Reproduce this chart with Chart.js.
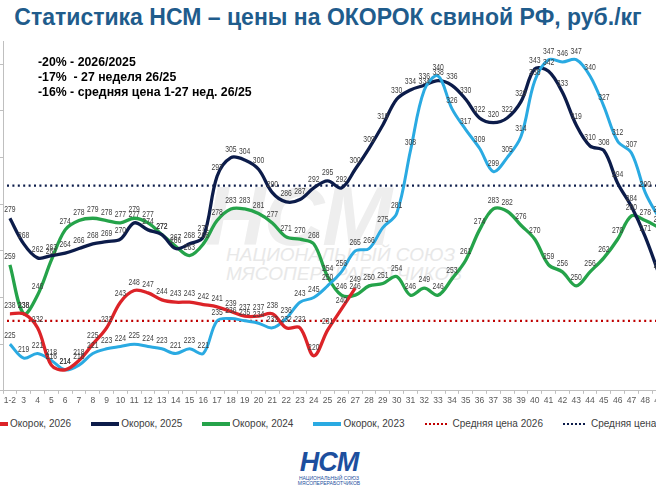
<!DOCTYPE html>
<html lang="ru">
<head>
  <meta charset="UTF-8" />
  <title>Статистика НСМ – цены на ОКОРОК свиной РФ</title>
  <script src="https://cdn.jsdelivr.net/npm/chart.js"></script>
  <style>
    html, body { margin: 0; padding: 0; }
    body {
      width: 656px; height: 493px; overflow: hidden; position: relative;
      background: #fff; font-family: 'Liberation Sans', Arial, sans-serif;
    }
    .title {
      position: absolute; left: 0; top: 4px; width: 656px; text-align: center;
      font-weight: bold; font-size: 23px; color: #1f5c8c; white-space: nowrap;
    }
    .notes {
      position: absolute; left: 38px; top: 55px; z-index: 2;
      font-weight: bold; font-size: 12.3px; line-height: 15px; color: #000; white-space: pre;
    }
    .wm { position: absolute; color: #eeeeee; font-style: italic; white-space: nowrap; }
    .wm-big { left: 205px; top: 168px; font-size: 84px; font-weight: bold; letter-spacing: -2px; }
    .wm-small { left: 226px; top: 245px; font-size: 19px; line-height: 19px; color: #e8e8e8; }
    .chart-box { position: absolute; left: 0; top: 0; width: 666px; height: 408px; }
    .legend {
      position: absolute; left: -20px; top: 418px; display: flex; gap: 20px;
      font-size: 10px; color: #404040; white-space: nowrap;
    }
    .legend .item { display: flex; align-items: center; gap: 2px; }
    .legend .sw { width: 28px; height: 0; }
    .legend .sw.dot { width: 22px; margin-right: 4px; }
    .logo { position: absolute; left: 294px; top: 449px; width: 70px; text-align: center; }
    .logo .big { font-size: 27px; font-weight: bold; font-style: italic; color: #1d4f9e; line-height: 27px; letter-spacing: -1px; }
    .logo .sm { font-size: 5px; line-height: 5px; color: #1d4f9e; }
  </style>
</head>
<body>
  <div class="title">Статистика НСМ – цены на ОКОРОК свиной РФ, руб./кг</div>

  <div class="wm wm-big">НСМ</div>
  <div class="wm wm-small">НАЦИОНАЛЬНЫЙ СОЮЗ<br>МЯСОПЕРЕРАБОТЧИКОВ</div>

  <div class="chart-box"><canvas id="hamChart"></canvas></div>

  <div class="notes">-20% - 2026/2025
-17%  - 27 неделя 26/25
-16% - средняя цена 1-27 нед. 26/25</div>

  <div class="legend" id="legend"></div>

  <div class="logo">
    <div class="big">НСМ</div>
    <div class="sm">НАЦИОНАЛЬНЫЙ СОЮЗ<br>МЯСОПЕРЕРАБОТЧИКОВ</div>
  </div>

  <script>
    // weeks on the x axis
    const weeks = ['1-2', '3', '4', '5', '6', '7', '8', '9', '10', '11', '12', '13', '14', '15', '16',
      '17', '18', '19', '20', '21', '22', '23', '24', '25', '26', '27', '28', '29', '30', '31', '32',
      '33', '34', '35', '36', '37', '38', '39', '40', '41', '42', '43', '44', '45', '46', '47', '48', '49'];

    // prices, rub/kg
    const ham2026 = [238, 238, 232, 216, 214, 218, 225, 232, 243, 248, 247, 244, 243, 243, 242, 241,
      239, 237, 237, 238, 232, 232, 220, 231, 240, 249];
    const ham2025 = [279, 268, 262, 263, 264, 266, 268, 269, 270, 277, 274, 272, 266, 268, 271, 297,
      305, 304, 300, 290, 286, 287, 292, 295, 292, 300, 309, 319, 330, 334, 336, 338,
      336, 330, 322, 320, 322, 329, 343, 342, 333, 319, 310, 308, 294, 284, 271, 255];
    const ham2024 = [259, 238, 246, 261, 274, 278, 279, 278, 277, 279, 277, 272, 267, 263, 268, 278,
      283, 283, 281, 277, 271, 270, 268, 254, 246, 246, 250, 251, 254, 246, 249, 246,
      253, 261, 274, 283, 282, 276, 270, 259, 256, 250, 256, 262, 270, 280, 278, 275];
    const ham2023 = [225, 219, 221, 218, 214, 216, 221, 223, 224, 225, 224, 223, 221, 223, 221, 235,
      236, 235, 234, 232, 236, 243, 245, 250, 256, 265, 266, 275, 281, 308, 334, 340,
      326, 317, 309, 299, 305, 314, 338, 347, 346, 347, 340, 327, 312, 307, 290, 279];

    const avg2026 = 235;
    const avg2025 = 293;

    const yTicks = [205, 225, 245, 265, 285, 305, 325, 345];

    const series = [
      { label: 'Окорок, 2026', data: ham2026, color: '#dc2328', order: 0 },
      { label: 'Окорок, 2025', data: ham2025, color: '#0c1c4a', order: 2 },
      { label: 'Окорок, 2024', data: ham2024, color: '#25a34a', order: 3 },
      { label: 'Окорок, 2023', data: ham2023, color: '#2aaae2', order: 1 }
    ];

    // dotted average lines
    const avgLines = {
      id: 'avgLines',
      beforeDatasetsDraw(chart) {
        const { ctx, chartArea, scales: { y } } = chart;
        [[avg2026, '#c00000'], [avg2025, '#0c1c4a']].forEach(([v, c]) => {
          const py = y.getPixelForValue(v);
          ctx.save();
          ctx.strokeStyle = c;
          ctx.lineWidth = 2.4;
          ctx.setLineDash([2, 3.4]);
          ctx.beginPath();
          ctx.moveTo(chartArea.left + 4, py);
          ctx.lineTo(chartArea.right, py);
          ctx.stroke();
          ctx.restore();
        });
      }
    };

    // value labels above each point (squeezed a bit, narrow like Calibri)
    const pointLabels = {
      id: 'pointLabels',
      afterDatasetsDraw(chart) {
        const ctx = chart.ctx;
        chart.data.datasets.forEach((ds, i) => {
          chart.getDatasetMeta(i).data.forEach((pt, j) => {
            const v = ds.data[j];
            if (v == null) return;
            ctx.save();
            ctx.translate(pt.x, pt.y - 4);
            ctx.scale(0.8, 1);
            ctx.font = '8.5px "Liberation Sans", sans-serif';
            ctx.fillStyle = '#404040';
            ctx.textAlign = 'center';
            ctx.textBaseline = 'bottom';
            ctx.fillText(v, 0, 0);
            ctx.restore();
          });
        });
      }
    };

    const ctx = document.getElementById('hamChart').getContext('2d');
    new Chart(ctx, {
      type: 'line',
      data: {
        labels: weeks,
        datasets: series.map(s => ({
          label: s.label,
          data: s.data,
          borderColor: s.color,
          backgroundColor: s.color,
          borderWidth: s.label.endsWith('2023') ? 3 : 3.3,
          pointRadius: 0,
          tension: 0.35,
          fill: false,
          order: s.order
        }))
      },
      options: {
        responsive: true,
        maintainAspectRatio: false,
        animation: false,
        layout: { padding: { top: 41, left: 0, right: 0, bottom: 0 } },
        plugins: { legend: { display: false }, tooltip: { enabled: false } },
        scales: {
          x: {
            offset: true,
            border: { color: '#bfbfbf' },
            grid: { offset: true, drawOnChartArea: false, tickLength: 3, color: '#bfbfbf' },
            ticks: {
              autoSkip: false, maxRotation: 0, padding: 2, color: '#595959',
              font: { family: "'Liberation Sans', sans-serif", size: 8.5 }
            }
          },
          y: {
            min: 205,
            max: 355,
            border: { color: '#bfbfbf' },
            grid: { drawOnChartArea: false, tickLength: 3, color: '#bfbfbf' },
            ticks: { display: false },
            afterBuildTicks: axis => { axis.ticks = yTicks.map(v => ({ value: v })); }
          }
        }
      },
      plugins: [avgLines, pointLabels]
    });

    // legend
    const legend = document.getElementById('legend');
    const legendItems = series.map(s => ({ label: s.label, color: s.color, dotted: false }))
      .concat([
        { label: 'Средняя цена 2026', color: '#c00000', dotted: true },
        { label: 'Средняя цена 2025', color: '#0c1c4a', dotted: true }
      ]);
    legendItems.forEach(it => {
      const item = document.createElement('div');
      item.className = 'item';
      const sw = document.createElement('span');
      sw.className = it.dotted ? 'sw dot' : 'sw';
      sw.style.borderTop = it.dotted ? `2px dotted ${it.color}` : `4px solid ${it.color}`;
      const txt = document.createElement('span');
      txt.textContent = it.label;
      item.appendChild(sw);
      item.appendChild(txt);
      legend.appendChild(item);
    });
  </script>
</body>
</html>
